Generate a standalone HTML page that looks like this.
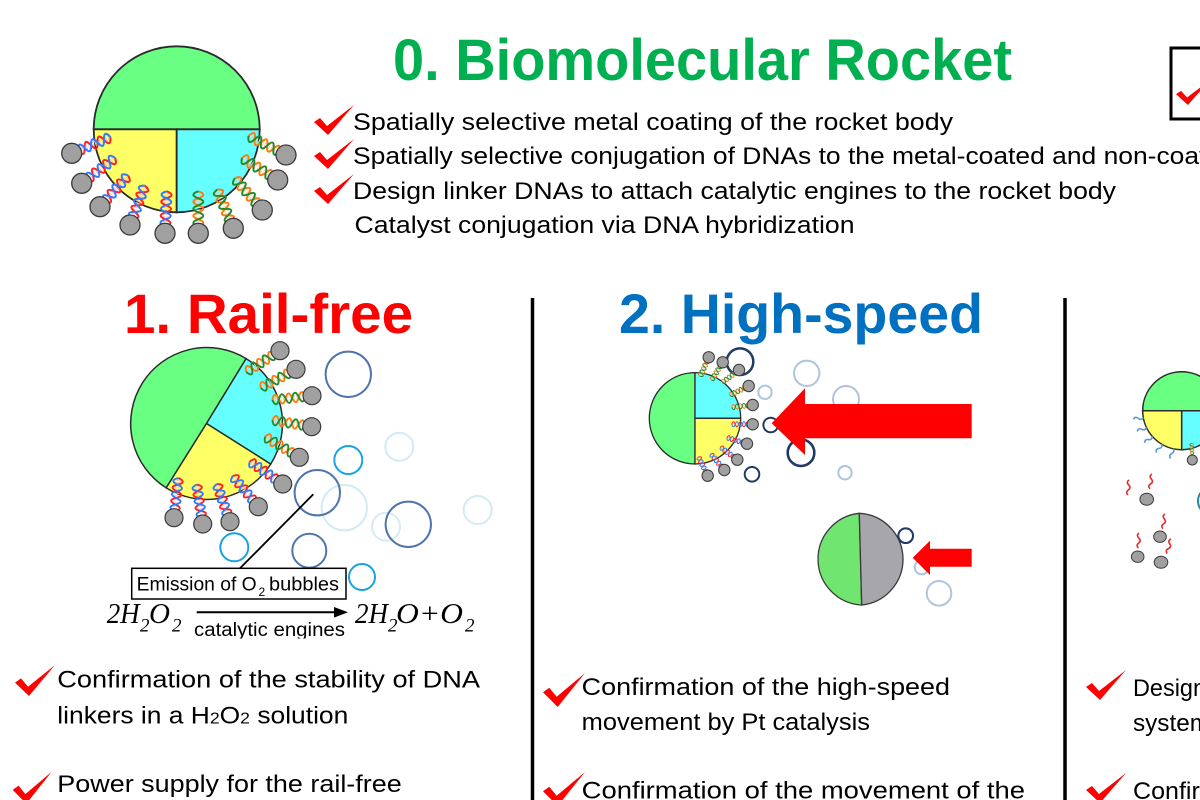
<!DOCTYPE html>
<html><head><meta charset="utf-8"><style>
html,body{margin:0;padding:0;background:#fff;}
svg{display:block;}
text{font-family:"Liberation Sans",Arial,sans-serif;}
.t{font-size:24px;fill:#000;}
.ser{font-family:"Liberation Serif","Times New Roman",serif;font-style:italic;fill:#000;}
</style></head><body>
<svg width="1200" height="800" viewBox="0 0 1200 800" xmlns="http://www.w3.org/2000/svg">
<defs>
<symbol id="chk" viewBox="0 0 40 30" preserveAspectRatio="none"><polygon points="0,17 6,13 13,21 40,0 14,30" fill="#FF0000"/></symbol>
<g id="hRB" fill="none">
<path d="M2.3,-3V3M4.7,-3V3M9.3,-3V3M11.7,-3V3M16.3,-3V3M18.7,-3V3M23.3,-3V3M25.7,-3V3M30.3,-3V3M32.7,-3V3M37.3,-3V3M39.7,-3V3" stroke="#F0C4C4" stroke-width="0.9"/>
<path d="M0,0 Q3.5,-10 7,0 T14,0 T21,0 T28,0 T35,0 T42,0" stroke="#FF2020" stroke-width="2"/>
<path d="M0,0 Q3.5,10 7,0 T14,0 T21,0 T28,0 T35,0 T42,0" stroke="#2E7BFF" stroke-width="2"/>
</g>
<g id="hOG" fill="none">
<path d="M2.3,-3V3M4.7,-3V3M9.3,-3V3M11.7,-3V3M16.3,-3V3M18.7,-3V3M23.3,-3V3M25.7,-3V3M30.3,-3V3M32.7,-3V3M37.3,-3V3M39.7,-3V3" stroke="#F2D6B8" stroke-width="0.9"/>
<path d="M0,0 Q3.5,-10 7,0 T14,0 T21,0 T28,0 T35,0 T42,0" stroke="#FF7A10" stroke-width="2"/>
<path d="M0,0 Q3.5,10 7,0 T14,0 T21,0 T28,0 T35,0 T42,0" stroke="#1E8C2A" stroke-width="2"/>
</g>
<path id="sqb" d="M0,0 q2.5,-3 5,0 t5,0" fill="none" stroke="#5B9BD5" stroke-width="1.6"/>
<path id="sqr" d="M0,0 q-3,2.5 0,5 t0,5 t0,5" fill="none" stroke="#E52B2B" stroke-width="1.6"/>
<clipPath id="clipEq"><rect x="0" y="0" width="1200" height="638.5"/></clipPath>
</defs>

<!-- ============ Section 0 ============ -->
<g stroke="#2b2b2b" stroke-width="1.8">
<path d="M93.7,129.3 A83,83 0 0 1 259.7,129.3 Z" fill="#69FF82"/>
<path d="M176.7,129.3 L93.7,129.3 A83,83 0 0 0 176.7,212.3 Z" fill="#FFFF66"/>
<path d="M176.7,129.3 L176.7,212.3 A83,83 0 0 0 259.7,129.3 Z" fill="#66FFFF"/>
</g>
<use href="#hRB" transform="translate(71.7,153.3) rotate(-22.6)"/>
<use href="#hRB" transform="translate(81.7,183.3) rotate(-37.3)"/>
<use href="#hRB" transform="translate(100,206.7) rotate(-48)"/>
<use href="#hRB" transform="translate(130,225) rotate(-69.4)"/>
<use href="#hRB" transform="translate(165,233.3) rotate(-87.7)"/>
<use href="#hOG" transform="translate(198.3,233.3) rotate(-90)"/>
<use href="#hOG" transform="translate(233.3,228.3) rotate(-112.6)"/>
<use href="#hOG" transform="translate(262.3,210) rotate(-131)"/>
<use href="#hOG" transform="translate(277.7,180) rotate(-148.2)"/>
<use href="#hOG" transform="translate(286,155) rotate(-153)"/>
<g fill="#A0A0A0" stroke="#3a3a3a" stroke-width="1.3">
<circle cx="71.7" cy="153.3" r="10"/><circle cx="81.7" cy="183.3" r="10"/><circle cx="100" cy="206.7" r="10"/><circle cx="130" cy="225" r="10"/><circle cx="165" cy="233.3" r="10"/>
<circle cx="198.3" cy="233.3" r="10"/><circle cx="233.3" cy="228.3" r="10"/><circle cx="262.3" cy="210" r="10"/><circle cx="277.7" cy="180" r="10"/><circle cx="286" cy="155" r="10"/>
</g>

<text x="393" y="80" font-size="58" font-weight="bold" fill="#00B050" textLength="619" lengthAdjust="spacingAndGlyphs">0. Biomolecular Rocket</text>

<use href="#chk" x="314" y="105" width="40" height="30"/>
<use href="#chk" x="314" y="139" width="40" height="30"/>
<use href="#chk" x="314" y="174" width="40" height="30"/>
<text class="t" x="353" y="130" textLength="600" lengthAdjust="spacingAndGlyphs">Spatially selective metal coating of the rocket body</text>
<text class="t" x="353" y="164" textLength="990" lengthAdjust="spacingAndGlyphs">Spatially selective conjugation of DNAs to the metal-coated and non-coated surfaces</text>
<text class="t" x="353" y="199" textLength="763" lengthAdjust="spacingAndGlyphs">Design linker DNAs to attach catalytic engines to the rocket body</text>
<text class="t" x="354.5" y="233" textLength="500" lengthAdjust="spacingAndGlyphs">Catalyst conjugation via DNA hybridization</text>

<rect x="1171" y="48" width="60" height="71" fill="none" stroke="#000" stroke-width="3"/>
<use href="#chk" x="1176" y="80" width="34" height="25"/>

<!-- dividers -->
<line x1="532.5" y1="298" x2="532.5" y2="800" stroke="#000" stroke-width="3.5"/>
<line x1="1065" y1="298" x2="1065" y2="800" stroke="#000" stroke-width="3.5"/>

<!-- ============ Section 1 ============ -->
<text x="124" y="333" font-size="56" font-weight="bold" fill="#FF0000" textLength="289" lengthAdjust="spacingAndGlyphs">1. Rail-free</text>

<g fill="none" stroke-width="2">
<circle cx="348.3" cy="374.3" r="22.7" stroke="#4F74AE"/>
<circle cx="399.3" cy="446.7" r="14" stroke="#D3EBF3"/>
<circle cx="344.3" cy="507.7" r="22.7" stroke="#D3EBF3"/>
<circle cx="386" cy="526.7" r="14" stroke="#D3EBF3"/>
<circle cx="477.7" cy="510" r="14" stroke="#D3EBF3"/>
<circle cx="348.3" cy="460" r="14" stroke="#19A3DD"/>
<circle cx="317.3" cy="492.7" r="22.7" stroke="#4F74AE"/>
<circle cx="408.3" cy="524.3" r="22.7" stroke="#4F74AE"/>
<circle cx="309.3" cy="550.7" r="17" stroke="#4F74AE"/>
<circle cx="234.3" cy="547.3" r="14" stroke="#19A3DD"/>
<circle cx="362" cy="577" r="13" stroke="#19A3DD"/>
</g>

<g stroke="#2b2b2b" stroke-width="1.5">
<path d="M206.5,423.5 L166.2,487.9 A76,76 0 0 1 246.1,358.6 Z" fill="#69FF82"/>
<path d="M206.5,423.5 L246.1,358.6 A76,76 0 0 1 270.7,464.1 Z" fill="#66FFFF"/>
<path d="M206.5,423.5 L270.7,464.1 A76,76 0 0 1 166.2,487.9 Z" fill="#FFFF66"/>
</g>
<use href="#hOG" transform="translate(280,350.7) rotate(147.8) scale(0.95)"/>
<use href="#hOG" transform="translate(296,369.3) rotate(152.2) scale(0.95)"/>
<use href="#hOG" transform="translate(312,395.7) rotate(173.9) scale(0.95)"/>
<use href="#hOG" transform="translate(311.7,426.7) rotate(189.5) scale(0.95)"/>
<use href="#hOG" transform="translate(299.3,457.3) rotate(211) scale(0.95)"/>
<use href="#hRB" transform="translate(282.7,484) rotate(214.4) scale(0.95)"/>
<use href="#hRB" transform="translate(258.3,506.7) rotate(230.2) scale(0.95)"/>
<use href="#hRB" transform="translate(230,521.7) rotate(250.8) scale(0.95)"/>
<use href="#hRB" transform="translate(202.7,524) rotate(261.3) scale(0.95)"/>
<use href="#hRB" transform="translate(174,517.7) rotate(276.3) scale(0.95)"/>
<g fill="#A0A0A0" stroke="#3a3a3a" stroke-width="1.2">
<circle cx="280" cy="350.7" r="9"/><circle cx="296" cy="369.3" r="9"/><circle cx="312" cy="395.7" r="9"/><circle cx="311.7" cy="426.7" r="9"/><circle cx="299.3" cy="457.3" r="9"/>
<circle cx="282.7" cy="484" r="9"/><circle cx="258.3" cy="506.7" r="9"/><circle cx="230" cy="521.7" r="9"/><circle cx="202.7" cy="524" r="9"/><circle cx="174" cy="517.7" r="9"/>
</g>

<line x1="313.3" y1="494.3" x2="240" y2="568.3" stroke="#000" stroke-width="1.8"/>
<rect x="131.7" y="568.3" width="214.3" height="30.7" fill="#fff" stroke="#000" stroke-width="1.5"/>
<text x="136.7" y="590.7" font-size="19" textLength="120" lengthAdjust="spacingAndGlyphs">Emission of O</text>
<text x="258.5" y="596" font-size="12">2</text>
<text x="269" y="590.7" font-size="19" textLength="70" lengthAdjust="spacingAndGlyphs">bubbles</text>

<text class="ser" x="106.7" y="623" font-size="28" textLength="33" lengthAdjust="spacingAndGlyphs">2H</text>
<text class="ser" x="140" y="631.5" font-size="19">2</text>
<text class="ser" x="149" y="623" font-size="28" textLength="21" lengthAdjust="spacingAndGlyphs">O</text>
<text class="ser" x="172" y="631.5" font-size="19">2</text>
<line x1="196.7" y1="612.3" x2="338" y2="612.3" stroke="#000" stroke-width="2"/>
<polygon points="348,612.3 334,607 334,617.6" fill="#000"/>
<g clip-path="url(#clipEq)">
<text x="194" y="636" font-size="19" textLength="151" lengthAdjust="spacingAndGlyphs">catalytic engines</text>
</g>
<text class="ser" x="355" y="623" font-size="28" textLength="33" lengthAdjust="spacingAndGlyphs">2H</text>
<text class="ser" x="388" y="631.5" font-size="19">2</text>
<text class="ser" x="396" y="623" font-size="28" textLength="67" lengthAdjust="spacingAndGlyphs">O+O</text>
<text class="ser" x="465" y="631.5" font-size="19">2</text>

<use href="#chk" x="15" y="665" width="40" height="31"/>
<text class="t" x="57.3" y="687.5" textLength="422.7" lengthAdjust="spacingAndGlyphs">Confirmation of the stability of DNA</text>
<text class="t" x="57.3" y="723.5" textLength="291" lengthAdjust="spacingAndGlyphs"><tspan>linkers in a H</tspan><tspan font-size="16">2</tspan><tspan>O</tspan><tspan font-size="16">2</tspan><tspan> solution</tspan></text>
<use href="#chk" x="12.7" y="771.7" width="39" height="32"/>
<text class="t" x="57.3" y="792" textLength="344.4" lengthAdjust="spacingAndGlyphs">Power supply for the rail-free</text>

<!-- ============ Section 2 ============ -->
<text x="619" y="333" font-size="56" font-weight="bold" fill="#0070C0" textLength="364" lengthAdjust="spacingAndGlyphs">2. High-speed</text>

<g fill="none">
<circle cx="806.7" cy="373.3" r="12.7" stroke="#AFC3DE" stroke-width="2"/>
<circle cx="765" cy="392.3" r="6.7" stroke="#AFC3DE" stroke-width="2"/>
<circle cx="846" cy="399" r="13" stroke="#AFC3DE" stroke-width="2"/>
<circle cx="845" cy="472.7" r="6.7" stroke="#AFC3DE" stroke-width="2"/>
<circle cx="921.7" cy="567.3" r="7" stroke="#AFC3DE" stroke-width="2"/>
<circle cx="939" cy="593.3" r="12.3" stroke="#AFC3DE" stroke-width="2"/>
<circle cx="740" cy="361.7" r="13.3" stroke="#203A66" stroke-width="2.5"/>
<circle cx="770.7" cy="425" r="7.3" stroke="#203A66" stroke-width="2"/>
<circle cx="801" cy="452.7" r="13.3" stroke="#203A66" stroke-width="2.6"/>
<circle cx="752" cy="474.3" r="7.3" stroke="#203A66" stroke-width="2"/>
<circle cx="905.7" cy="535.7" r="7.3" stroke="#203A66" stroke-width="2"/>
</g>

<g stroke="#2b2b2b" stroke-width="1.3">
<path d="M695,372.6 A45.7,45.7 0 0 0 695,464 Z" fill="#69FF82"/>
<path d="M695,418.3 L695,372.6 A45.7,45.7 0 0 1 740.7,418.3 Z" fill="#66FFFF"/>
<path d="M695,418.3 L740.7,418.3 A45.7,45.7 0 0 1 695,464 Z" fill="#FFFF66"/>
</g>
<use href="#hOG" transform="translate(708.7,357.3) rotate(114) scale(0.5)"/>
<use href="#hOG" transform="translate(722.7,362.3) rotate(122) scale(0.5)"/>
<use href="#hOG" transform="translate(739,370) rotate(143) scale(0.5)"/>
<use href="#hOG" transform="translate(748.7,386) rotate(154) scale(0.5)"/>
<use href="#hOG" transform="translate(752.7,405) rotate(174) scale(0.5)"/>
<use href="#hRB" transform="translate(752.7,424.3) rotate(180) scale(0.5)"/>
<use href="#hRB" transform="translate(747,443.7) rotate(197) scale(0.5)"/>
<use href="#hRB" transform="translate(737.3,459.7) rotate(217) scale(0.5)"/>
<use href="#hRB" transform="translate(724.3,470) rotate(230) scale(0.5)"/>
<use href="#hRB" transform="translate(707.7,475.7) rotate(244) scale(0.5)"/>
<g fill="#A0A0A0" stroke="#3a3a3a" stroke-width="1">
<circle cx="708.7" cy="357.3" r="5.7"/><circle cx="722.7" cy="362.3" r="5.7"/><circle cx="739" cy="370" r="5.7"/><circle cx="748.7" cy="386" r="5.7"/><circle cx="752.7" cy="405" r="5.7"/>
<circle cx="752.7" cy="424.3" r="5.7"/><circle cx="747" cy="443.7" r="5.7"/><circle cx="737.3" cy="459.7" r="5.7"/><circle cx="724.3" cy="470" r="5.7"/><circle cx="707.7" cy="475.7" r="5.7"/>
</g>

<polygon points="771.7,423.3 805,388.3 805,404 971.7,404 971.7,438.3 805,438.3 805,455" fill="#FF0000"/>

<g stroke="#3a3a3a" stroke-width="1.3">
<path d="M859.3,513.3 A46,46 0 0 0 861.7,605 Z" fill="#70E570"/>
<path d="M859.3,513.3 A46,46 0 0 1 861.7,605 Z" fill="#A6A6AC"/>
</g>
<circle cx="905.7" cy="535.7" r="7.3" fill="#fff" stroke="#203A66" stroke-width="2"/>
<polygon points="912.7,557.7 930,540.7 930,548.7 971.7,548.7 971.7,566.7 930,566.7 930,575" fill="#FF0000"/>

<use href="#chk" x="543" y="673" width="42" height="34"/>
<text class="t" x="581.7" y="695" textLength="368.3" lengthAdjust="spacingAndGlyphs">Confirmation of the high-speed</text>
<text class="t" x="581.7" y="730" textLength="288.3" lengthAdjust="spacingAndGlyphs">movement by Pt catalysis</text>
<use href="#chk" x="543" y="772" width="42" height="34"/>
<text class="t" x="581.7" y="798.5" textLength="443.3" lengthAdjust="spacingAndGlyphs">Confirmation of the movement of the</text>

<!-- ============ Section 3 (partial) ============ -->
<circle cx="1212" cy="501" r="14" fill="none" stroke="#31859C" stroke-width="2"/>
<g stroke="#2b2b2b" stroke-width="1.5">
<path d="M1142.7,410.7 A39,39 0 0 1 1220.7,410.7 Z" fill="#69FF82"/>
<path d="M1181.7,410.7 L1142.7,410.7 A39,39 0 0 0 1181.7,449.7 Z" fill="#FFFF66"/>
<path d="M1181.7,410.7 L1181.7,449.7 A39,39 0 0 0 1220.7,410.7 Z" fill="#66FFFF"/>
</g>
<use href="#hOG" transform="translate(1192.3,460) rotate(-92) scale(0.4)"/>
<use href="#sqb" transform="translate(1143.3,417.5) rotate(170)"/>
<use href="#sqb" transform="translate(1146.3,427.2) rotate(155)"/>
<use href="#sqb" transform="translate(1152.2,436.3) rotate(139)"/>
<use href="#sqb" transform="translate(1161.6,444.1) rotate(121)"/>
<use href="#sqb" transform="translate(1172.9,448.7) rotate(103)"/>
<g fill="#A0A0A0" stroke="#3a3a3a" stroke-width="1">
<circle cx="1192.3" cy="460" r="5"/>
<ellipse cx="1146.7" cy="499.3" rx="6.8" ry="6"/>
<ellipse cx="1160" cy="536.7" rx="6.3" ry="5.7"/>
<ellipse cx="1137.7" cy="556.7" rx="6.3" ry="5.7"/>
<ellipse cx="1161" cy="562.3" rx="6.8" ry="6"/>
</g>
<use href="#sqr" transform="translate(1129,480) rotate(4)"/>
<use href="#sqr" transform="translate(1152,474) rotate(8)"/>
<use href="#sqr" transform="translate(1165,514) rotate(8)"/>
<use href="#sqr" transform="translate(1139,533) rotate(2)"/>
<use href="#sqr" transform="translate(1171,539) rotate(15)"/>

<use href="#chk" x="1086" y="670" width="40" height="30"/>
<text class="t" x="1133" y="696" textLength="73" lengthAdjust="spacingAndGlyphs">Design</text>
<text class="t" x="1133" y="731" textLength="77" lengthAdjust="spacingAndGlyphs">system</text>
<use href="#chk" x="1086" y="773" width="40" height="30"/>
<text class="t" x="1133" y="799" textLength="142" lengthAdjust="spacingAndGlyphs">Confirmation</text>
</svg>
</body></html>
